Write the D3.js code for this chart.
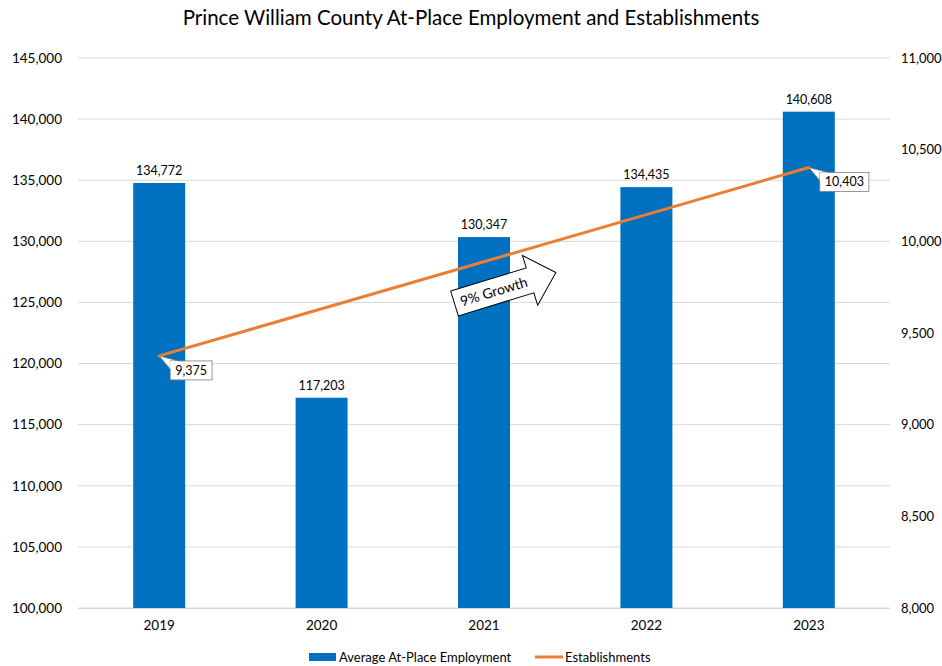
<!DOCTYPE html>
<html>
<head>
<meta charset="utf-8">
<script src="https://cdn.jsdelivr.net/npm/d3@7"></script>
<style>
  body { margin: 0; background: #fff; }
  svg { font-family: Lato, "Open Sans", sans-serif; }
</style>
</head>
<body>
<svg id="chart" width="942" height="666"></svg>
<script>
// Data
const years = ["2019", "2020", "2021", "2022", "2023"];
const employment = [134772, 117203, 130347, 134435, 140608];
const establishmentYears = ["2019", "2023"];
const establishments = [9375, 10403];
const leftTicks = [100000, 105000, 110000, 115000, 120000, 125000, 130000, 135000, 140000, 145000];
const rightTicks = [8000, 8500, 9000, 9500, 10000, 10500, 11000];
const seriesNames = ["Average At-Place Employment", "Establishments"];

const svg = d3.select("#chart");
const W = 942, H = 666;
const m = { left: 78, right: 52, top: 58, bottom: 58 };
const plotW = W - m.left - m.right;   // 812
const plotH = H - m.top - m.bottom;   // 550

const blue = "#0070C0", orange = "#ED7D31", grid = "#d9d9d9", ink = "#000";
const fmt = d3.format(",");

const x = d3.scaleBand().domain(years).range([m.left, m.left + plotW]).paddingInner(0.68).paddingOuter(0.34);
const yL = d3.scaleLinear().domain([100000, 145000]).range([m.top + plotH, m.top]);
const yR = d3.scaleLinear().domain([8000, 11000]).range([m.top + plotH, m.top]);

// Title
svg.append("text").attr("x", W / 2).attr("y", 25).attr("text-anchor", "middle")
  .attr("font-size", 20.5).attr("fill", ink)
  .text("Prince William County At-Place Employment and Establishments");

// Gridlines
svg.append("g").selectAll("line").data(leftTicks).join("line")
  .attr("x1", m.left).attr("x2", m.left + plotW)
  .attr("y1", d => yL(d)).attr("y2", d => yL(d))
  .attr("stroke", grid).attr("stroke-width", 1);

// Left axis
const axL = svg.append("g").attr("transform", `translate(${m.left},0)`)
  .call(d3.axisLeft(yL).tickValues(leftTicks).tickFormat(fmt).tickSize(0).tickPadding(16));
axL.select(".domain").remove();
axL.selectAll("text").attr("font-size", 13.5).attr("fill", ink).attr("font-family", "Lato, sans-serif");

// Right axis
const axR = svg.append("g").attr("transform", `translate(${m.left + plotW},0)`)
  .call(d3.axisRight(yR).tickValues(rightTicks).tickFormat(fmt).tickSize(0).tickPadding(11));
axR.select(".domain").remove();
axR.selectAll("text").attr("font-size", 13).attr("fill", ink).attr("font-family", "Lato, sans-serif");

// Bottom axis
const axB = svg.append("g").attr("transform", `translate(0,${m.top + plotH})`)
  .call(d3.axisBottom(x).tickSize(0).tickPadding(12));
axB.select(".domain").attr("stroke", grid);
axB.selectAll("text").attr("font-size", 13.5).attr("fill", ink).attr("font-family", "Lato, sans-serif");

// Bars
svg.append("g").selectAll("rect").data(years).join("rect")
  .attr("x", d => x(d)).attr("width", x.bandwidth())
  .attr("y", (d, i) => yL(employment[i]))
  .attr("height", (d, i) => yL(100000) - yL(employment[i]))
  .attr("fill", blue);

// Bar value labels
svg.append("g").selectAll("text").data(years).join("text")
  .attr("x", d => x(d) + x.bandwidth() / 2)
  .attr("y", (d, i) => yL(employment[i]) - 8)
  .attr("text-anchor", "middle").attr("font-size", 12.5).attr("fill", ink)
  .text((d, i) => fmt(employment[i]));

// Establishments line
const pts = establishmentYears.map((yr, i) => [x(yr) + x.bandwidth() / 2, yR(establishments[i])]);
svg.append("path").attr("d", d3.line()(pts))
  .attr("fill", "none").attr("stroke", orange).attr("stroke-width", 3).attr("stroke-linecap", "round");

// Callout labels for the line points
const callouts = pts.map((p, i) => ({ p, text: fmt(establishments[i]) }));
callouts.forEach(c => {
  const bx = c.p[0] + 11, by = c.p[1] + 5;
  const g = svg.append("g");
  const t = g.append("text").attr("font-size", 12.5).attr("fill", ink).text(c.text);
  const tw = t.node().getComputedTextLength();
  const bw = tw + 10, bh = 19;
  // pointer from the point to the box corner
  g.insert("path", "text")
    .attr("d", `M${c.p[0]},${c.p[1]} L${bx + 8},${by} L${bx},${by + 8} Z`)
    .attr("fill", "#fff").attr("stroke", "#7f7f7f").attr("stroke-width", 0.8);
  g.insert("rect", "text").attr("x", bx).attr("y", by).attr("width", bw).attr("height", bh)
    .attr("fill", "#fff").attr("stroke", "#7f7f7f").attr("stroke-width", 0.8);
  g.insert("path", "text")
    .attr("d", `M${bx + 0.6},${by + 8} L${bx + 0.6},${by + 0.6} L${bx + 8},${by + 0.6}`)
    .attr("fill", "none").attr("stroke", "#fff").attr("stroke-width", 1.2);
  t.attr("x", bx + 5).attr("y", by + 14);
});

// Growth arrow
const gx = (x("2021") + x("2022")) / 2 + x.bandwidth() / 2 - 60;
const arrow = svg.append("g").attr("transform", `translate(${gx},288) rotate(-17)`);
arrow.append("path")
  .attr("d", "M-53,-13 L26,-13 L26,-26 L53,0 L26,26 L26,13 L-53,13 Z")
  .attr("fill", "#fff").attr("stroke", ink).attr("stroke-width", 1);
arrow.append("text").attr("x", -12).attr("y", 5).attr("text-anchor", "middle")
  .attr("font-size", 14).attr("fill", ink).text("9% Growth");

// Legend
const lg = svg.append("g").attr("transform", "translate(0,657)");
lg.append("rect").attr("x", 309).attr("y", -4).attr("width", 27).attr("height", 8).attr("fill", blue);
lg.append("text").attr("x", 339).attr("y", 4.5).attr("font-size", 13).attr("fill", ink).text(seriesNames[0]);
lg.append("line").attr("x1", 535).attr("x2", 563).attr("y1", 0).attr("y2", 0)
  .attr("stroke", orange).attr("stroke-width", 3);
lg.append("text").attr("x", 565).attr("y", 4.5).attr("font-size", 13).attr("fill", ink).text(seriesNames[1]);
</script>
</body>
</html>
